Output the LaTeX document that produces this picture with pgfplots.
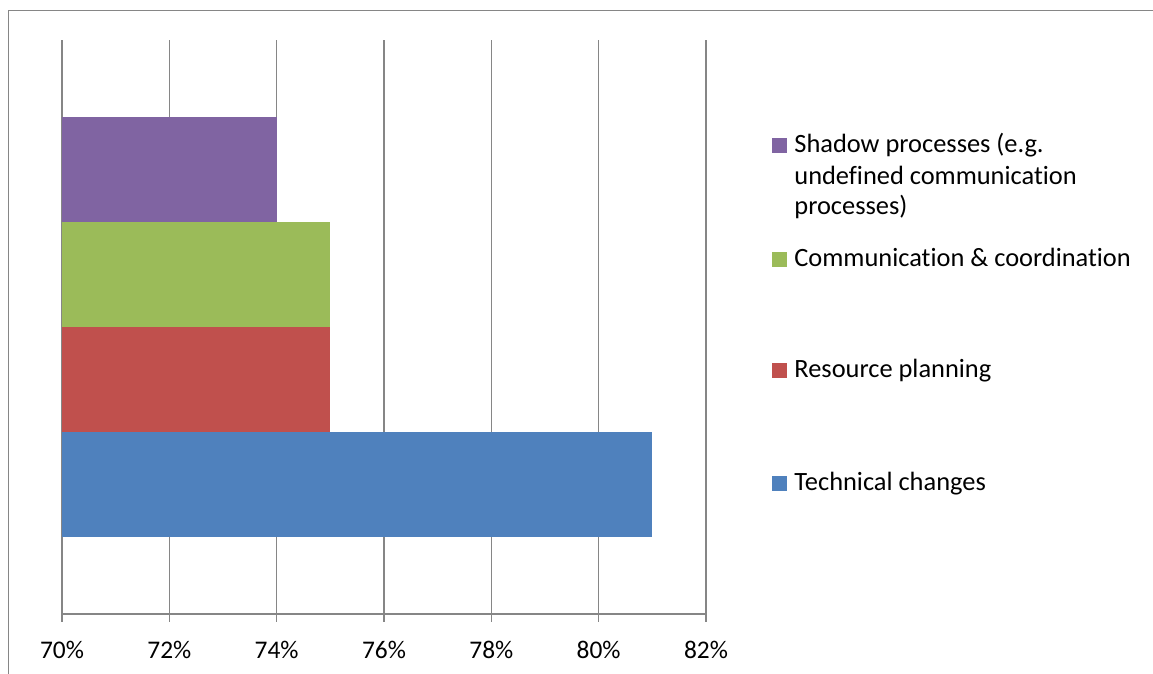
\documentclass[border=0pt]{standalone}
\usepackage{fontspec}
\setmainfont{Carlito}[Ligatures=NoCommon]
\usepackage{pgfplots}
\pgfplotsset{compat=1.18}
\definecolor{cPurple}{HTML}{8064A2}
\definecolor{cGreen}{HTML}{9BBB59}
\definecolor{cRed}{HTML}{C0504D}
\definecolor{cBlue}{HTML}{4F81BD}
\definecolor{cGrid}{HTML}{868686}
\begin{document}
\begin{tikzpicture}[x=1pt,y=1pt]
\useasboundingbox (0,0) rectangle (576.5,337);
% outer chart frame (top and left edges visible)
\draw[cGrid, line width=0.75pt] (4.25,0) -- (4.25,331.75) -- (576.5,331.75);
\begin{axis}[
  at={(31pt,30pt)}, anchor=south west,
  scale only axis, width=322pt, height=287pt,
  xmin=70, xmax=82, ymin=-1, ymax=1,
  xbar, bar width=52.5pt,
  xtick={70,72,74,76,78,80,82},
  xticklabel={\pgfmathprintnumber{\tick}\%},
  ytick=\empty,
  axis x line*=bottom, axis y line=none,
  axis line style={cGrid, line width=0.75pt, -},
  xmajorgrids, grid style={cGrid, line width=0.75pt},
  xtick align=outside, major tick length=4pt,
  tick style={cGrid, line width=0.75pt},
  /pgf/number format/assume math mode=true,
  xticklabel style={font=\fontsize{12.7}{15}\selectfont, text=black, yshift=-6pt},
  clip=true,
]
\addplot[fill=cBlue, draw=none, bar shift=-78.75pt] coordinates {(81,0)};
\addplot[fill=cRed, draw=none, bar shift=-26.25pt] coordinates {(75,0)};
\addplot[fill=cGreen, draw=none, bar shift=26.25pt] coordinates {(75,0)};
\addplot[fill=cPurple, draw=none, bar shift=78.75pt] coordinates {(74,0)};
\end{axis}
% legend
\begin{scope}[every node/.style={anchor=base west, inner sep=0pt, font=\fontsize{13.2}{15}\selectfont}]
\fill[cPurple] (386,260.5) rectangle +(7.5,7.5);
\node at (397,260.5) {Shadow processes (e.g.};
\node at (397,244.5) {undefined communication};
\node at (397,229.5) {processes)};
\fill[cGreen] (386,203.5) rectangle +(7.5,7.5);
\node at (397,203.5) {Communication \& coordination};
\fill[cRed] (386,148) rectangle +(7.5,7.5);
\node at (397,148) {Resource planning};
\fill[cBlue] (386,91.5) rectangle +(7.5,7.5);
\node at (397,91.5) {Technical changes};
\end{scope}
\end{tikzpicture}
\end{document}
